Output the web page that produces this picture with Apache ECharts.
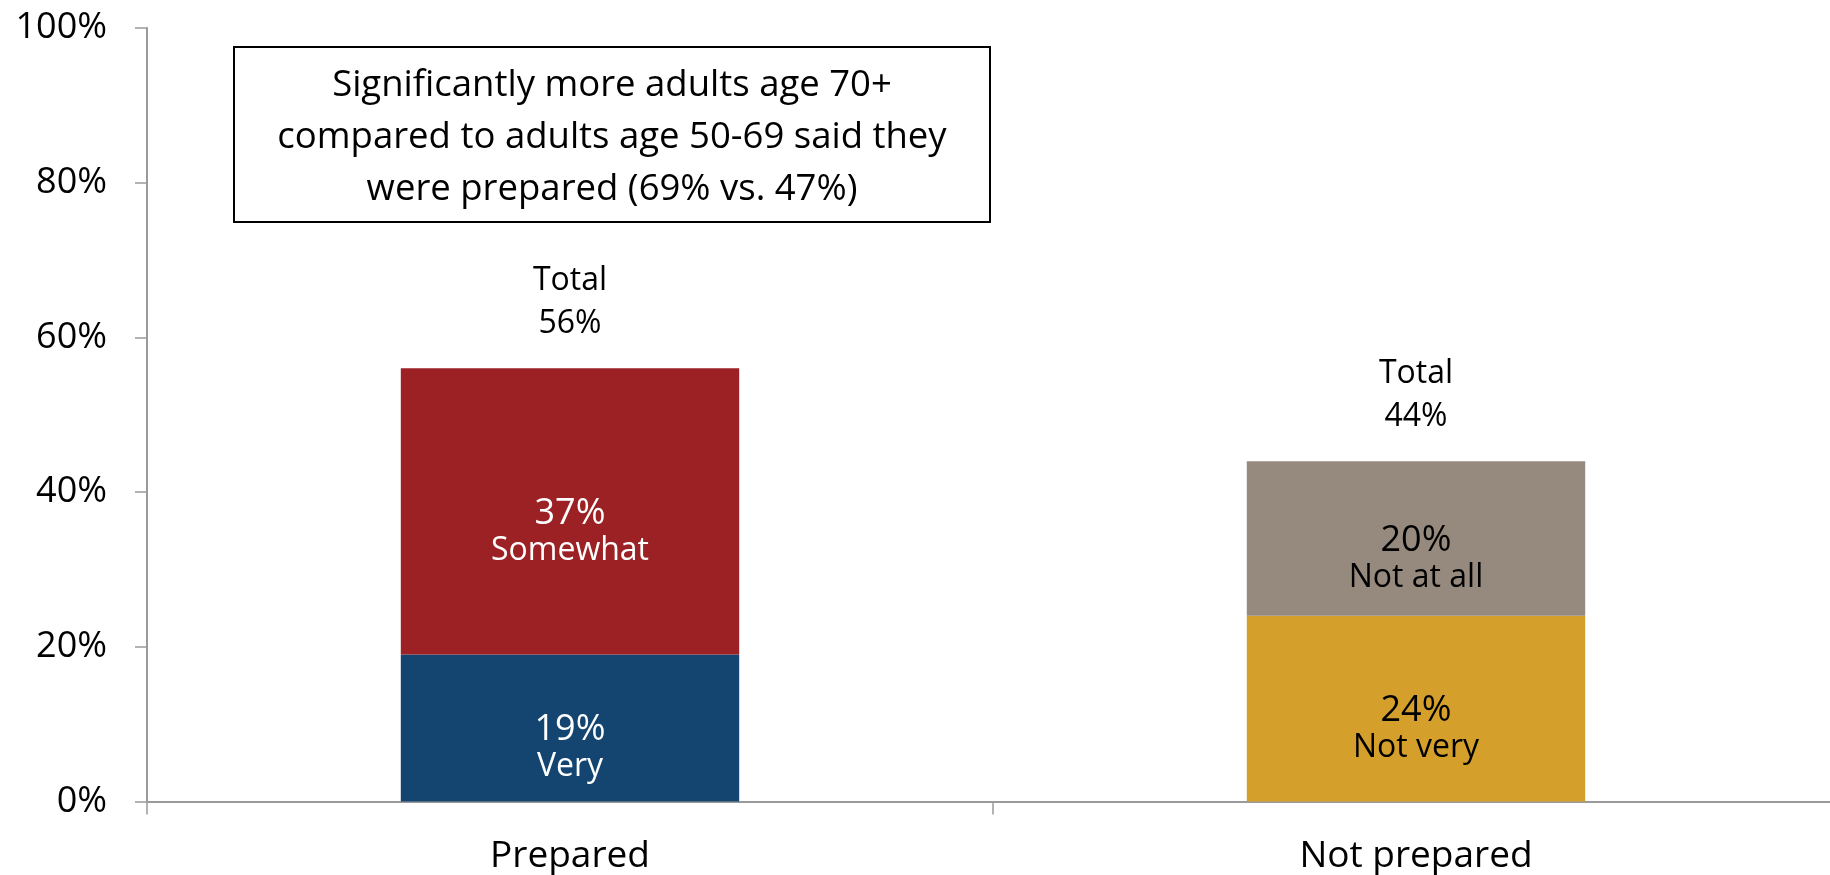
<!DOCTYPE html>
<html>
<head>
<meta charset="utf-8">
<title>Prepared vs. Not prepared</title>
<script src="https://cdn.jsdelivr.net/npm/echarts@6/dist/echarts.min.js"></script>
<style>
  html, body { margin: 0; padding: 0; background: #ffffff; }
  #chart { width: 1830px; height: 875px; }
</style>
</head>
<body>
<div id="chart"></div>
<script>
// Categories and stacked segment values (percent)
const categories = ['Prepared', 'Not prepared'];
const veryPrepared = [19, null];
const somewhatPrepared = [37, null];
const notVeryPrepared = [null, 24];
const notAtAllPrepared = [null, 20];
const yTicks = [0, 20, 40, 60, 80, 100];
const noteLines = [
  'Significantly more adults age 70+',
  'compared to adults age 50-69 said they',
  'were prepared (69% vs. 47%)'
];

const FONT = '"Open Sans", "Liberation Sans", sans-serif';

// Totals per category, from the segments
const totals = categories.map((_, i) =>
  [veryPrepared, somewhatPrepared, notVeryPrepared, notAtAllPrepared]
    .reduce((s, arr) => s + (arr[i] || 0), 0));

function segment(name, data, color, textColor) {
  return {
    name: name,
    type: 'bar',
    stack: 'total',
    barWidth: '40%',
    data: data,
    itemStyle: { color: color },
    emphasis: { disabled: true },
    label: {
      show: true,
      position: 'inside',
      offset: [0, 20],
      formatter: p => '{v|' + p.value + '%}\n{n|' + name + '}',
      rich: {
        v: { fontFamily: FONT, fontSize: 36, lineHeight: 38, color: textColor },
        n: { fontFamily: FONT, fontSize: 32, lineHeight: 36, color: textColor }
      }
    }
  };
}

const chart = echarts.init(document.getElementById('chart'));
chart.setOption({
  animation: false,
  backgroundColor: '#ffffff',
  // the category axis runs a little past the right edge of the page
  grid: {
    left: 147, width: 1692, top: 28, bottom: 73.5,
    containLabel: false, outerBoundsMode: 'none'
  },
  xAxis: {
    type: 'category',
    data: categories,
    axisLine: { show: true, lineStyle: { color: '#9a9a9a', width: 2 } },
    axisTick: { show: true, length: 13, lineStyle: { color: '#9a9a9a', width: 1.5 } },
    axisLabel: { color: '#000000', fontFamily: FONT, fontSize: 37, margin: 36 }
  },
  yAxis: {
    type: 'value',
    min: yTicks[0],
    max: yTicks[yTicks.length - 1],
    interval: yTicks[1] - yTicks[0],
    axisLine: { show: true, lineStyle: { color: '#9a9a9a', width: 2 } },
    axisTick: { show: true, length: 12, lineStyle: { color: '#9a9a9a', width: 1.5 } },
    splitLine: { show: false },
    axisLabel: {
      color: '#000000', fontFamily: FONT, fontSize: 36, margin: 40,
      formatter: v => v + '%'
    }
  },
  series: [
    segment('Very', veryPrepared, '#144570', '#ffffff'),
    segment('Somewhat', somewhatPrepared, '#9c2124', '#ffffff'),
    segment('Not very', notVeryPrepared, '#d4a02b', '#000000'),
    segment('Not at all', notAtAllPrepared, '#968a7e', '#000000'),
    {
      name: 'Total',
      type: 'scatter',
      data: totals,
      symbolSize: 0,
      silent: true,
      itemStyle: { opacity: 1 },
      label: {
        show: true,
        position: 'top',
        distance: 23,
        formatter: p => 'Total\n' + p.value + '%',
        fontFamily: FONT,
        fontSize: 32,
        lineHeight: 43,
        color: '#000000',
        align: 'center'
      }
    }
  ],
  graphic: [
    {
      type: 'group',
      left: 233,
      top: 46,
      children: [
        {
          type: 'rect',
          shape: { x: 0, y: 0, width: 756, height: 175 },
          style: { fill: '#ffffff', stroke: '#000000', lineWidth: 2 }
        },
        {
          type: 'text',
          x: 378,
          y: 91,
          style: {
            text: noteLines.join('\n'),
            fontFamily: FONT,
            fontSize: 36.5,
            lineHeight: 52,
            fill: '#000000',
            align: 'center',
            verticalAlign: 'middle'
          }
        }
      ]
    }
  ]
});
</script>
</body>
</html>
